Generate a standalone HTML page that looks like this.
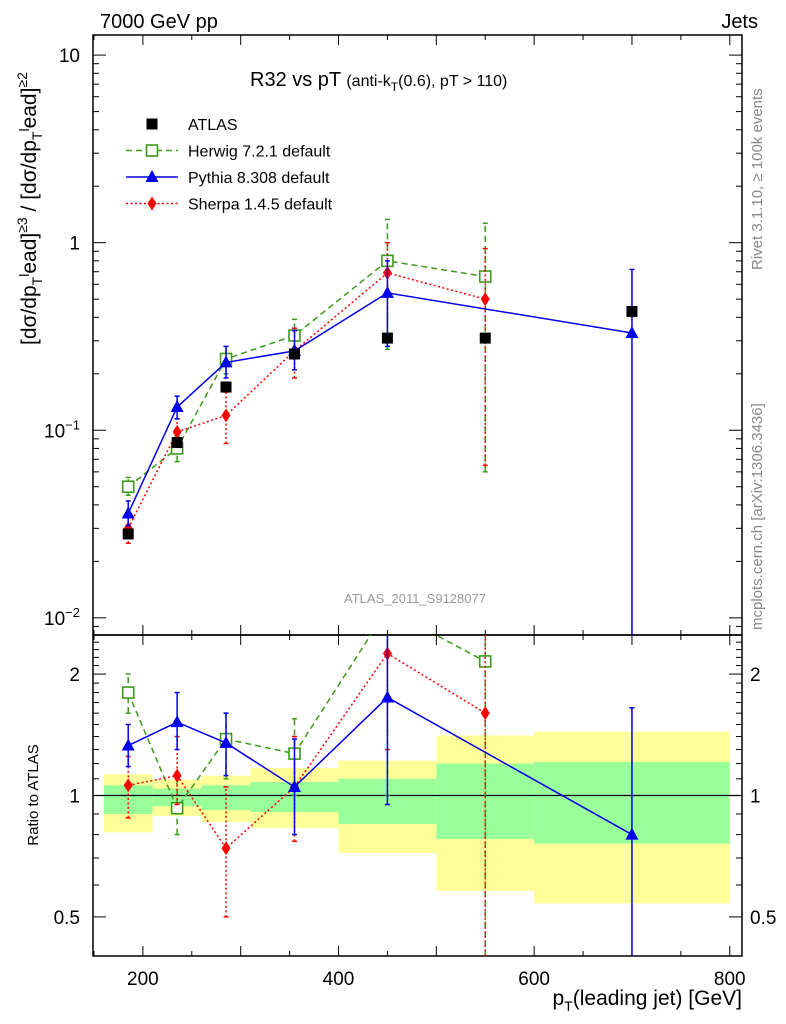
<!DOCTYPE html>
<html><head><meta charset="utf-8"><style>
html,body{margin:0;padding:0;background:#fff;overflow:hidden;width:786px;height:1024px;}
svg{display:block;font-family:"Liberation Sans",sans-serif;}
</style></head><body>
<svg id="c" width="786" height="1024" viewBox="0 0 786 1024" xmlns="http://www.w3.org/2000/svg">
<defs>
<clipPath id="cu"><rect x="93" y="35" width="649" height="600"/></clipPath>
<clipPath id="cr"><rect x="93" y="635" width="649" height="321"/></clipPath>
</defs>
<text x="100" y="28" font-size="20">7000 GeV pp</text>
<text x="758" y="28" font-size="20" text-anchor="end">Jets</text>
<text x="250" y="86" font-size="20">R32 vs pT <tspan font-size="16">(anti-k</tspan><tspan font-size="12" dy="5">T</tspan><tspan font-size="16" dy="-5">(0.6), pT &gt; 110)</tspan></text>
<text x="415" y="603" font-size="13" fill="#999" text-anchor="middle">ATLAS_2011_S9128077</text>
<text transform="translate(762,270) rotate(-90)" font-size="15" fill="#888">Rivet 3.1.10, ≥ 100k events</text>
<text transform="translate(762,630) rotate(-90)" font-size="15" fill="#888">mcplots.cern.ch [arXiv:1306.3436]</text>
<text transform="translate(36,345) rotate(-90)" font-size="21">[dσ/dp<tspan font-size="14" dy="6">T</tspan><tspan font-size="14" dy="-13">l</tspan><tspan dy="7">ead]</tspan><tspan font-size="14" dy="-9">≥3</tspan><tspan dy="9"> / [dσ/dp</tspan><tspan font-size="14" dy="6">T</tspan><tspan font-size="14" dy="-13">l</tspan><tspan dy="7">ead]</tspan><tspan font-size="14" dy="-9">≥2</tspan></text>
<text transform="translate(38,795) rotate(-90)" font-size="15" text-anchor="middle">Ratio to ATLAS</text>
<text x="742" y="1005" font-size="21" text-anchor="end">p<tspan font-size="14" dy="6">T</tspan><tspan dy="-6">(leading jet) [GeV]</tspan></text>
<g id="g"></g>
</svg>
<script>
const xCenters=[185,235,285,355,450,550,700];
const binEdges=[160,210,260,310,400,500,600,800];
const atlas=[0.028,0.086,0.17,0.255,0.31,0.31,0.43];
const herwig=[0.050,0.080,0.24,0.32,0.80,0.66];
const herwigLo=[0.045,0.068,0.2,0.27,0.27,0.06];
const herwigHi=[0.056,0.093,0.28,0.39,1.33,1.27];
const pythia=[0.036,0.133,0.23,0.265,0.54,null,0.33];
const pythiaLo=[0.031,0.115,0.19,0.21,0.28,null,0.001];
const pythiaHi=[0.042,0.152,0.28,0.34,0.8,null,0.72];
const sherpa=[0.030,0.098,0.12,0.265,0.69,0.50];
const sherpaLo=[0.025,0.082,0.085,0.19,0.3,0.065];
const sherpaHi=[0.036,0.115,0.16,0.35,1.0,0.93];
const rHerwig=[1.8,0.93,1.38,1.27,2.9,2.15];
const rHerwigLo=[1.6,0.8,1.1,1.0,1.0,0.2];
const rHerwigHi=[2.0,1.1,1.6,1.55,3.0,3.0];
const rPythia=[1.33,1.52,1.35,1.05,1.75,null,0.8];
const rPythiaLo=[1.18,1.3,1.12,0.8,0.95,null,0.2];
const rPythiaHi=[1.5,1.8,1.6,1.38,3.0,null,1.65];
const rSherpa=[1.06,1.12,0.74,1.05,2.25,1.6];
const rSherpaLo=[0.88,0.95,0.5,0.77,1.3,0.2];
const rSherpaHi=[1.25,1.4,1.05,1.4,3.0,3.0];
const bandGreenHi=[1.06,1.04,1.06,1.08,1.10,1.20,1.21];
const bandGreenLo=[0.90,0.94,0.92,0.91,0.85,0.78,0.76];
const bandYellowHi=[1.13,1.095,1.12,1.17,1.22,1.41,1.44];
const bandYellowLo=[0.81,0.89,0.86,0.83,0.72,0.58,0.54];
const xTicks=[200,400,600,800];

const NS="http://www.w3.org/2000/svg";
const g=document.getElementById('g');
const X0=93,X1=742,XMIN=149,XMAX=812.5;
const X=v=>X0+(v-XMIN)/(XMAX-XMIN)*(X1-X0);
const UT=35,UB=635,LTOP=Math.log10(12.8),LBOT=Math.log10(0.0081);
const YU=v=>UT+(LTOP-Math.log10(v))/(LTOP-LBOT)*(UB-UT);
const RT=635,RB=956,RTOP=Math.log10(2.5),RBOT=Math.log10(0.4);
const YR=v=>RT+(RTOP-Math.log10(v))/(RTOP-RBOT)*(RB-RT);
function el(t,a,p){const e=document.createElementNS(NS,t);for(const k in a)e.setAttribute(k,a[k]);(p||g).appendChild(e);return e;}

const bandG=el('g',{'clip-path':'url(#cr)'});


for(let i=0;i<7;i++){
  const x=X(binEdges[i]),w=X(binEdges[i+1])-x;
  const y1=el('rect',{x:x,y:YR(bandYellowHi[i]),width:w,height:YR(bandYellowLo[i])-YR(bandYellowHi[i]),fill:'#ffff99'},bandG);
  
  
  const g1=el('rect',{x:x,y:YR(bandGreenHi[i]),width:w,height:YR(bandGreenLo[i])-YR(bandGreenHi[i]),fill:'#99ff99'},bandG);
  
  
}
const one=el('line',{x1:X0,x2:X1,y1:YR(1),y2:YR(1),stroke:'#000','stroke-width':1.3});



const f1=el('rect',{x:X0,y:UT,width:X1-X0,height:UB-UT,fill:'none',stroke:'#000','stroke-width':1.5});


const f2=el('rect',{x:X0,y:RT,width:X1-X0,height:RB-RT,fill:'none',stroke:'#000','stroke-width':1.5});



for(let v=150;v<=800;v+=50){
  const big=v%100===0;const L=big?10:5;
  for(const [t,b] of [[UT,UB],[RT,RB]]){
    el('line',{x1:X(v),x2:X(v),y1:b,y2:b-L,stroke:'#000'});
    el('line',{x1:X(v),x2:X(v),y1:t,y2:t+L,stroke:'#000'});
  }
}
xTicks.forEach(v=>{const t=el('text',{x:X(v),y:985,'font-size':19,'text-anchor':'middle'});t.textContent=v;

});

for(let d=-3;d<=1;d++)for(let m=1;m<10;m++){
  const v=m*Math.pow(10,d);if(v<0.0081||v>12.8)continue;
  const L=m===1?13:6;const y=YU(v);
  el('line',{x1:X0,x2:X0+L,y1:y,y2:y,stroke:'#000'});
  el('line',{x1:X1,x2:X1-L,y1:y,y2:y,stroke:'#000'});
}
[[10,'10'],[1,'1']].forEach(([v,s])=>{const t=el('text',{x:80,y:YU(v)+7,'font-size':19,'text-anchor':'end'});t.textContent=s;

});
[[0.1,'−1'],[0.01,'−2']].forEach(([v,s])=>{const t=el('text',{x:80,y:YU(v)+7,'font-size':19,'text-anchor':'end'});
t.innerHTML='10<tspan font-size="13" dy="-8">'+s+'</tspan>';

});

for(let k=4;k<=25;k++){
  const vv=k/10;const big=(vv===0.5||vv===1||vv===2);const L=big?13:6;const y=YR(vv);
  el('line',{x1:X0,x2:X0+L,y1:y,y2:y,stroke:'#000'});
  el('line',{x1:X1,x2:X1-L,y1:y,y2:y,stroke:'#000'});
}
[[2,'2'],[1,'1'],[0.5,'0.5']].forEach(([v,s])=>{
  const t=el('text',{x:80,y:YR(v)+7,'font-size':19,'text-anchor':'end'});t.textContent=s;
  
  
  const t2=el('text',{x:750,y:YR(v)+7,'font-size':19});t2.textContent=s;
  
  
});

function marker(type,x,y,col,p){
  let e;
  if(type==='sq')e=el('rect',{x:x-5.5,y:y-5.5,width:11,height:11,fill:'#000'},p);
  else if(type==='osq')e=el('rect',{x:x-5.5,y:y-5.5,width:11,height:11,fill:'#fff',stroke:col,'stroke-width':1.6},p);
  else if(type==='tri')e=el('polygon',{points:`${x},${y-7} ${x+6.5},${y+5} ${x-6.5},${y+5}`,fill:col},p);
  else e=el('polygon',{points:`${x},${y-7} ${x+4.5},${y} ${x},${y+7} ${x-4.5},${y}`,fill:col},p);
  return e;
}
function series(name,vals,lo,hi,Y,clip,col,dash,type,width){
  const sg=el('g',{'clip-path':`url(#${clip})`});
  
  
  const pts=[];
  vals.forEach((v,i)=>{if(v==null)return;const x=X(xCenters[i]);pts.push(x+','+Y(v));
    if(lo){el('line',{x1:x,x2:x,y1:Y(lo[i]),y2:Y(hi[i]),stroke:col,'stroke-width':width,'stroke-dasharray':dash},sg);
      [lo[i],hi[i]].forEach(b=>el('line',{x1:x-2.5,x2:x+2.5,y1:Y(b),y2:Y(b),stroke:col,'stroke-width':1.5},sg));}
  });
  if(type!=='sq')el('polyline',{points:pts.join(' '),fill:'none',stroke:col,'stroke-width':width,'stroke-dasharray':dash},sg);
  vals.forEach((v,i)=>{if(v==null)return;const m=marker(type,X(xCenters[i]),Y(v),col,sg);
    
    });
}
const GC='#3c9a1a',BC='#0000ee',RC='#ff0000';
series('herwig-series',herwig,herwigLo,herwigHi,YU,'cu',GC,'6,4','osq',1.5);
series('sherpa-series',sherpa,sherpaLo,sherpaHi,YU,'cu',RC,'2,2.5','dia',1.5);
series('pythia-series',pythia,pythiaLo,pythiaHi,YU,'cu',BC,'','tri',1.5);
series('atlas-data',atlas,null,null,YU,'cu','#000','','sq',1);
series('herwig-ratio',rHerwig,rHerwigLo,rHerwigHi,YR,'cr',GC,'6,4','osq',1.5);
series('sherpa-ratio',rSherpa,rSherpaLo,rSherpaHi,YR,'cr',RC,'2,2.5','dia',1.5);
series('pythia-ratio',rPythia,rPythiaLo,rPythiaHi,YR,'cr',BC,'','tri',1.5);

const leg=[['ATLAS','#000','','sq'],['Herwig 7.2.1 default',GC,'6,4','osq'],['Pythia 8.308 default',BC,'','tri'],['Sherpa 1.4.5 default',RC,'2,2.5','dia']];
leg.forEach((l,i)=>{
  const y=124+i*26.5;
  const lg=el('g',{});
  
  
  if(l[3]!=='sq')el('line',{x1:126,x2:178,y1:y,y2:y,stroke:l[1],'stroke-width':1.5,'stroke-dasharray':l[2]},lg);
  marker(l[3],152,y,l[1],lg);
  const t=el('text',{x:188,y:y+6,'font-size':16},lg);t.textContent=l[0];
});
</script>
</body></html>
